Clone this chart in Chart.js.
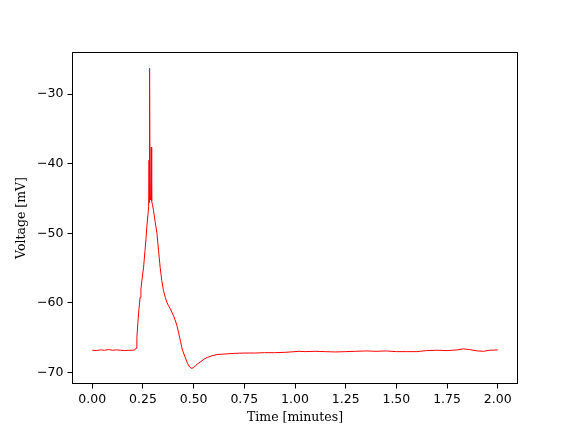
<!DOCTYPE html>
<html lang="en">
<head>
    <meta charset="UTF-8">
    <title>Voltage trace</title>
    <script src="https://cdn.jsdelivr.net/npm/chart.js"></script>
    <style>
        body {
            margin: 0;
            padding: 0;
            background: #fff;
        }
        canvas {
            display: block;
        }
    </style>
</head>
<body>
    <canvas id="voltageChart" width="576" height="432"></canvas>

    <script>
        // time in minutes, voltage in mV
        const timeMin = [
            0.00, 0.02, 0.04, 0.06, 0.08, 0.10, 0.12, 0.14, 0.16, 0.18, 0.20, 0.21,
            0.216, 0.22, 0.225, 0.23, 0.236, 0.24, 0.245, 0.253, 0.26, 0.265, 0.269, 0.274,
            0.278, 0.280, 0.281, 0.283, 0.284, 0.285, 0.288, 0.291, 0.293, 0.297, 0.302, 0.31,
            0.319, 0.327, 0.335, 0.343, 0.351, 0.36, 0.368, 0.376, 0.384, 0.392, 0.40, 0.408,
            0.417, 0.426, 0.435, 0.445, 0.458, 0.47, 0.48, 0.49, 0.50, 0.51, 0.52, 0.535,
            0.55, 0.57, 0.59, 0.62, 0.65, 0.70, 0.75, 0.80, 0.85, 0.90, 0.95, 1.00,
            1.02, 1.05, 1.10, 1.15, 1.20, 1.25, 1.30, 1.35, 1.40, 1.45, 1.50, 1.55,
            1.60, 1.65, 1.70, 1.75, 1.80, 1.83, 1.86, 1.90, 1.93, 1.96, 2.00
        ];
        const voltage = [
            -66.80, -66.85, -66.75, -66.80, -66.70, -66.80, -66.75, -66.80, -66.85, -66.80, -66.80, -66.75,
            -66.50, -65.00, -62.80, -61.00, -59.20, -58.00, -56.70, -54.90, -52.50, -50.80, -49.10, -47.50,
            -46.20, -39.50, -45.60, -45.00, -26.30, -44.80, -45.20, -37.60, -45.40, -45.90, -46.70, -48.30,
            -50.00, -52.50, -54.90, -56.80, -58.20, -59.20, -59.90, -60.40, -60.80, -61.30, -61.80, -62.40,
            -63.20, -64.30, -65.50, -66.80, -67.80, -68.70, -69.20, -69.40, -69.30, -69.00, -68.75, -68.45,
            -68.10, -67.80, -67.60, -67.40, -67.35, -67.25, -67.20, -67.20, -67.15, -67.15, -67.10, -67.00,
            -66.95, -67.00, -66.95, -67.00, -67.05, -67.00, -66.95, -66.90, -66.95, -66.90, -67.00, -67.00,
            -67.00, -66.85, -66.80, -66.85, -66.75, -66.60, -66.70, -66.90, -66.95, -66.80, -66.75
        ];
        const xTicks = [0.00, 0.25, 0.50, 0.75, 1.00, 1.25, 1.50, 1.75, 2.00];
        const yTicks = [-70, -60, -50, -40, -30];

        const points = timeMin.map((t, i) => ({ x: t, y: voltage[i] }));

        // matplotlib-style box around the plot area
        const frame = {
            id: 'frame',
            afterDraw(chart) {
                const { ctx, chartArea: a } = chart;
                ctx.save();
                ctx.strokeStyle = '#000';
                ctx.lineWidth = 1;
                ctx.strokeRect(a.left + 0.5, a.top + 0.5, a.right - a.left - 1, a.bottom - a.top - 1);
                ctx.restore();
            }
        };

        const tickFont = { family: 'DejaVu Sans', size: 12.5 };
        const titleFont = { family: 'DejaVu Serif', size: 12.5 };

        new Chart(document.getElementById('voltageChart'), {
            type: 'line',
            data: {
                datasets: [{
                    data: points,
                    borderColor: '#ff0000',
                    borderWidth: 1,
                    pointRadius: 0,
                    tension: 0,
                    fill: false
                }]
            },
            options: {
                responsive: false,
                animation: false,
                devicePixelRatio: 1,
                layout: { padding: { left: 0, top: 52, right: 58, bottom: 0 } },
                plugins: {
                    legend: { display: false },
                    tooltip: { enabled: false }
                },
                scales: {
                    x: {
                        type: 'linear',
                        min: -0.1,
                        max: 2.1,
                        afterBuildTicks: s => { s.ticks = xTicks.map(v => ({ value: v })); },
                        afterFit: s => { s.height = 48; },
                        grid: { drawOnChartArea: false, drawTicks: true, tickLength: 4.5, color: '#000' },
                        border: { display: false },
                        ticks: {
                            color: '#000',
                            font: tickFont,
                            padding: 4,
                            maxRotation: 0,
                            callback: v => v.toFixed(2)
                        },
                        title: {
                            display: true,
                            text: 'Time [minutes]',
                            color: '#000',
                            font: titleFont,
                            padding: { top: 0, bottom: 6.5 }
                        }
                    },
                    y: {
                        type: 'linear',
                        min: -71.65,
                        max: -23.95,
                        afterBuildTicks: s => { s.ticks = yTicks.map(v => ({ value: v })); },
                        afterFit: s => { s.width = 72; },
                        grid: { drawOnChartArea: false, drawTicks: true, tickLength: 4.5, color: '#000' },
                        border: { display: false },
                        ticks: {
                            color: '#000',
                            font: tickFont,
                            padding: 4,
                            callback: v => String(v).replace('-', '\u2212')
                        },
                        title: {
                            display: true,
                            text: 'Voltage [mV]',
                            color: '#000',
                            font: titleFont,
                            padding: { top: 14.5, bottom: 0 }
                        }
                    }
                }
            },
            plugins: [frame]
        });
    </script>
</body>
</html>
